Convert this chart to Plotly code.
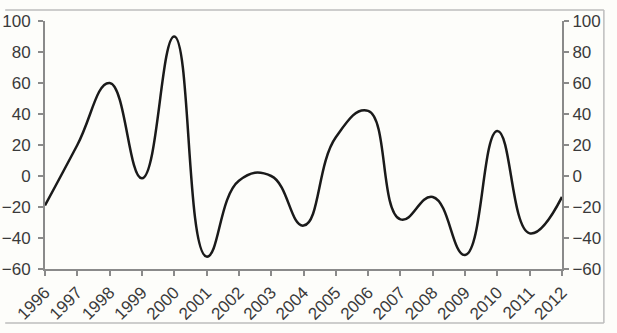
import plotly.graph_objects as go

years = list(range(1996, 2013))
values = [-19, 20, 60, -1.5, 90, -52, -3, 0, -32, 25, 42, -28, -13.5, -51, 29, -37, -13.5]
y_ticks = [-60, -40, -20, 0, 20, 40, 60, 80, 100]
x_tick_labels = [str(y) for y in years]

bg = "#fdfdfa"
axis_col = "#8a8a8a"
font_col = "#3a3a3a"

fig = go.Figure()
fig.add_trace(go.Scatter(
    x=years, y=values, mode="lines",
    line=dict(color="#1a1a1a", width=2.5, shape="spline", smoothing=1.3),
    showlegend=False, hoverinfo="skip",
))
fig.add_trace(go.Scatter(
    x=years, y=values, mode="lines", yaxis="y2",
    line=dict(color="rgba(0,0,0,0)", width=0),
    showlegend=False, hoverinfo="skip",
))

axis_font = dict(family="Liberation Sans, Arial, sans-serif", size=17, color=font_col)

fig.update_layout(
    width=617, height=333,
    margin=dict(l=45, r=55, t=21, b=64, autoexpand=False),
    paper_bgcolor=bg, plot_bgcolor=bg,
    xaxis=dict(
        range=[1996, 2012], tickmode="array", tickvals=years, ticktext=x_tick_labels,
        tickangle=-45, showgrid=False, zeroline=False, automargin=False,
        showline=True, linecolor=axis_col, linewidth=2,
        ticks="outside", ticklen=5, tickwidth=2, tickcolor=axis_col,
        tickfont=axis_font,
    ),
    yaxis=dict(
        range=[-60, 100], tickmode="array", tickvals=y_ticks,
        showgrid=False, zeroline=False, automargin=False,
        showline=True, linecolor=axis_col, linewidth=2,
        ticks="outside", ticklen=5, tickwidth=2, tickcolor=axis_col,
        tickfont=axis_font, ticklabelstandoff=4,
    ),
    yaxis2=dict(
        range=[-60, 100], tickmode="array", tickvals=y_ticks,
        overlaying="y", side="right", automargin=False,
        showgrid=False, zeroline=False,
        showline=True, linecolor=axis_col, linewidth=2,
        ticks="outside", ticklen=5, tickwidth=2, tickcolor=axis_col,
        tickfont=axis_font,
    ),
    shapes=[
        dict(type="line", xref="paper", yref="paper", x0=-0.077, x1=1.081, y0=1.044, y1=1.044,
             line=dict(color="#bdbdbd", width=1.5)),
        dict(type="line", xref="paper", yref="paper", x0=-0.077, x1=1.081, y0=-0.218, y1=-0.218,
             line=dict(color="#bdbdbd", width=1.5)),
        dict(type="line", xref="paper", yref="paper", x0=1.081, x1=1.081, y0=-0.218, y1=1.044,
             line=dict(color="#bdbdbd", width=1.5)),
    ],
)

fig.write_html("out.html")
